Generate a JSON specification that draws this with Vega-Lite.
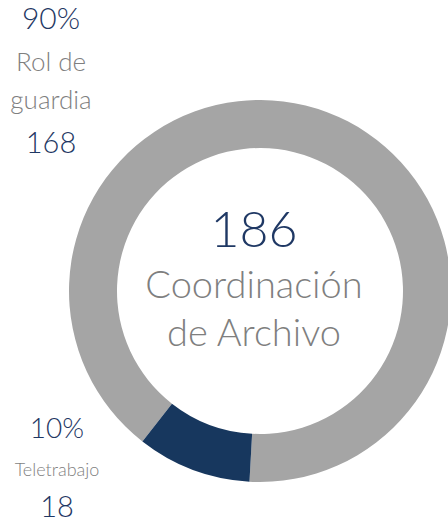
{
  "$schema": "https://vega.github.io/schema/vega-lite/v6.json",
  "width": 376,
  "height": 474,
  "autosize": {"type": "none"},
  "padding": {"left": 72, "top": 54, "right": 0, "bottom": 0},
  "background": "white",
  "config": {"view": {"stroke": null}, "text": {"font": "Lato"}},
  "datasets": {
    "slices": [
      {"category": "Rol de guardia", "label": "Rol de\nguardia", "value": 168, "pct": 0.9},
      {"category": "Teletrabajo", "label": "Teletrabajo", "value": 18, "pct": 0.1}
    ]
  },
  "data": {"name": "slices"},
  "layer": [
    {
      "mark": {"type": "arc", "innerRadius": 143, "outerRadius": 191},
      "encoding": {
        "theta": {"field": "value", "type": "quantitative", "stack": true, "scale": {"range": [3.8048, 10.088]}},
        "color": {"field": "category", "type": "nominal", "scale": {"domain": ["Rol de guardia", "Teletrabajo"], "range": ["#A5A5A5", "#17375E"]}, "legend": null},
        "order": {"field": "category", "type": "ordinal", "sort": "ascending"}
      }
    },
    {
      "mark": {"type": "text", "fontSize": 50, "fontWeight": 300, "color": "#1F3864", "baseline": "alphabetic", "align": "center", "dy": -44, "dx": -6},
      "encoding": {"text": {"aggregate": "sum", "field": "value", "type": "quantitative"}}
    },
    {
      "data": {"values": [{"area": "Coordinación\nde Archivo"}]},
      "mark": {"type": "text", "lineBreak": "\n", "lineHeight": 47.5, "fontSize": 38, "fontWeight": 300, "color": "#7F7F7F", "baseline": "alphabetic", "align": "center", "dy": 7, "dx": -6},
      "encoding": {"text": {"field": "area", "type": "nominal"}}
    },
    {
      "encoding": {
        "theta": {"field": "value", "type": "quantitative", "stack": null, "scale": {"domain": [0, 168], "range": [3.8055, 5.5002]}},
        "radius": {"field": "value", "type": "quantitative", "scale": {"type": "linear", "zero": false, "domain": [18, 168], "range": [271.3, 296.3]}}
      },
      "layer": [
        {
          "transform": [{"filter": {"field": "category", "equal": "Rol de guardia"}}],
          "mark": {"type": "text", "fontSize": 30, "fontWeight": 300, "color": "#1F3864", "baseline": "middle", "align": "center", "dy": -61},
          "encoding": {"text": {"field": "pct", "type": "quantitative", "format": ".0%"}}
        },
        {
          "transform": [{"filter": {"field": "category", "equal": "Rol de guardia"}}],
          "mark": {"type": "text", "fontSize": 26, "fontWeight": 300, "color": "#7F7F7F", "baseline": "middle", "align": "center", "lineBreak": "\n", "lineHeight": 38, "dy": -18},
          "encoding": {"text": {"field": "label", "type": "nominal"}}
        },
        {
          "transform": [{"filter": {"field": "category", "equal": "Rol de guardia"}}],
          "mark": {"type": "text", "fontSize": 29, "fontWeight": 300, "color": "#1F3864", "baseline": "middle", "align": "center", "dy": 63},
          "encoding": {"text": {"field": "value", "type": "quantitative"}}
        },
        {
          "transform": [{"filter": {"field": "category", "equal": "Teletrabajo"}}],
          "mark": {"type": "text", "fontSize": 28, "fontWeight": 300, "color": "#1F3864", "baseline": "middle", "align": "center", "dy": -41},
          "encoding": {"text": {"field": "pct", "type": "quantitative", "format": ".0%"}}
        },
        {
          "transform": [{"filter": {"field": "category", "equal": "Teletrabajo"}}],
          "mark": {"type": "text", "fontSize": 18, "fontWeight": 300, "color": "#7F7F7F", "baseline": "middle", "align": "center", "dy": 0},
          "encoding": {"text": {"field": "label", "type": "nominal"}}
        },
        {
          "transform": [{"filter": {"field": "category", "equal": "Teletrabajo"}}],
          "mark": {"type": "text", "fontSize": 29, "fontWeight": 300, "color": "#1F3864", "baseline": "middle", "align": "center", "dy": 37},
          "encoding": {"text": {"field": "value", "type": "quantitative"}}
        }
      ]
    }
  ],
  "resolve": {"scale": {"theta": "independent", "radius": "independent"}}
}
